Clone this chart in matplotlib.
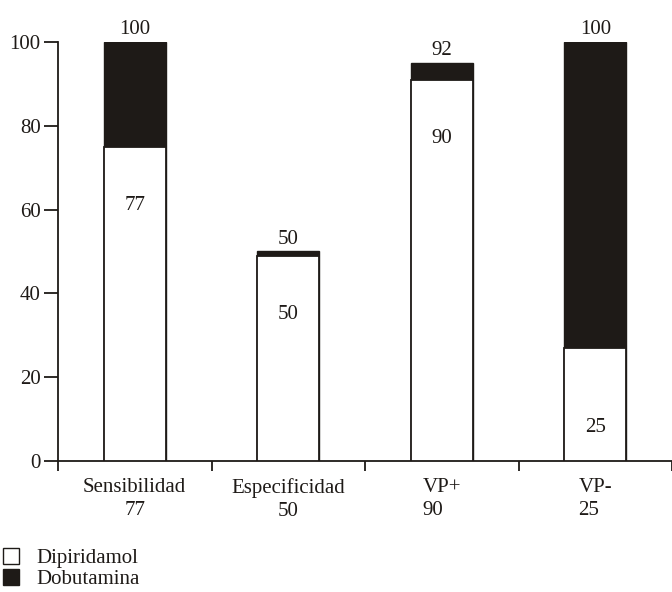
import matplotlib
matplotlib.use("Agg")
import matplotlib.pyplot as plt
from matplotlib.patches import Patch

categories = ["Sensibilidad", "Especificidad", "VP+", "VP-"]
cat_values = ["77", "50", "90", "25"]
dobutamina = [100, 50, 95, 100]
dipiridamol = [75, 49, 91, 27]
top_labels = ["100", "50", "92", "100"]
inner_labels = ["77", "50", "90", "25"]
yticks = [0, 20, 40, 60, 80, 100]

plt.rcParams["font.family"] = ["Liberation Serif", "DejaVu Serif"]
FS = 15
dark = "#1e1a17"

fig = plt.figure(figsize=(6.72, 5.92), dpi=100)
ax = fig.add_axes([58/672, 131/592, (672-58)/672, 419/592])

x = list(range(len(categories)))
w = 0.405
ax.bar(x, dobutamina, width=w, color=dark, edgecolor=dark, linewidth=1.0, zorder=2)
ax.bar(x, dipiridamol, width=w, color="white", edgecolor=dark, linewidth=1.3, zorder=3)

for xi, d, t in zip(x, dobutamina, top_labels):
    ax.annotate(t, (xi, d), xytext=(0, 5.5), textcoords="offset points",
                ha="center", va="baseline", fontsize=FS, color=dark, annotation_clip=False)
for xi, p, t in zip(x, dipiridamol, inner_labels):
    ty = p - 15 if p - 15 > 20 else 7
    ax.text(xi, ty, t, ha="center", va="baseline", fontsize=FS, color=dark, zorder=4)

ax.set_xlim(-0.5, -0.5 + (672 - 58) / 157)
ax.set_ylim(0, 100)
ax.set_yticks(yticks)
ax.set_yticklabels([str(v) for v in yticks], fontsize=FS, color=dark)
ax.set_xticks(x)
labels = ax.set_xticklabels([f"{c}\n{v}" for c, v in zip(categories, cat_values)],
                            fontsize=FS, color=dark, linespacing=1.25)
for lab, ma in zip(labels, ["center", "center", "left", "left"]):
    lab.set_multialignment(ma)
ax.set_xticks([i - 0.5 for i in range(len(categories) + 1)], minor=True)
ax.tick_params(axis="x", which="major", length=0, pad=12.5)
ax.tick_params(axis="x", which="minor", length=7, width=1.3, direction="out", color=dark)
ax.tick_params(axis="y", length=10, width=1.3, direction="out", color=dark, pad=2.5)
for s in ["top", "right"]:
    ax.spines[s].set_visible(False)
for s in ["left", "bottom"]:
    ax.spines[s].set_linewidth(1.3)
    ax.spines[s].set_color(dark)

handles = [Patch(facecolor="white", edgecolor=dark, linewidth=1.0, label="Dipiridamol"),
           Patch(facecolor=dark, edgecolor=dark, label="Dobutamina")]
fig.legend(handles=handles, loc="upper left", bbox_to_anchor=(0.005, 1 - 548/592),
           frameon=False, fontsize=FS, handlelength=0.77, handleheight=0.77,
           handletextpad=0.8, labelspacing=0.05, borderaxespad=0, borderpad=0,
           labelcolor=dark)

fig.savefig("out.png", dpi=100)
